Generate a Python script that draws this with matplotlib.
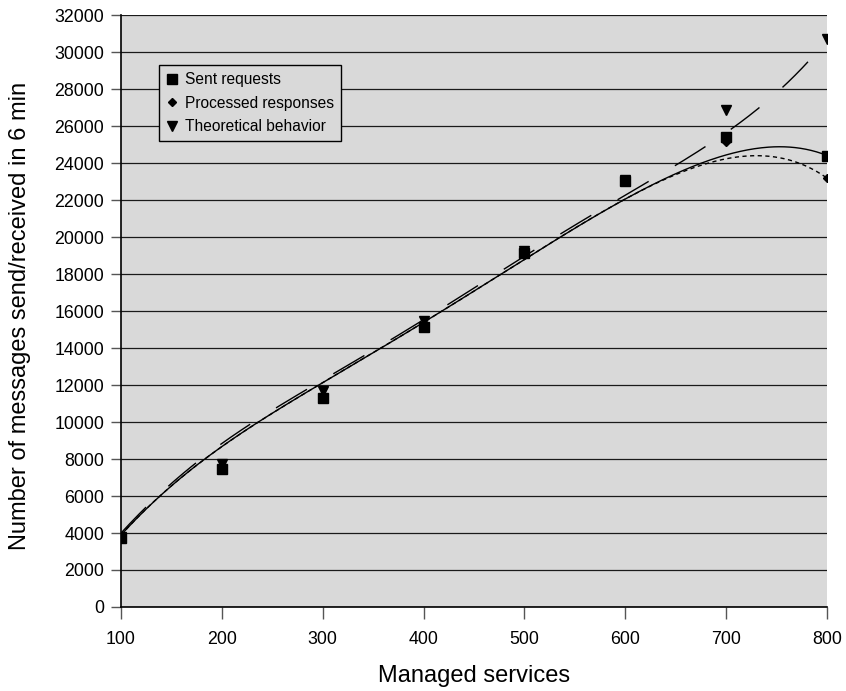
import numpy as np
import matplotlib.pyplot as plt

plt.rcParams['font.family'] = ['Liberation Sans', 'DejaVu Sans']

# managed services and message counts
services = [100, 200, 300, 400, 500, 600, 700, 800]
sent = [3730, 7480, 11280, 15160, 19120, 23030, 25420, 24400]
processed = [3730, 7520, 11320, 15220, 19150, 23050, 25150, 23190]
theoretical = [3800, 7720, 11680, 15490, 19260, 23070, 26900, 30690]

# trendline values every 50 services
trend_x = [100, 150, 200, 250, 300, 350, 400, 450, 500, 550, 600, 650, 700, 750, 800]
sent_trend = [3900, 6500, 8750, 10450, 12100, 13750, 15400, 17100, 18800, 20450,
              22050, 23450, 24450, 24870, 24420]
processed_trend = [3900, 6500, 8750, 10450, 12100, 13750, 15400, 17100, 18800, 20450,
                   22050, 23400, 24250, 24300, 23200]
theoretical_trend = [4000, 6650, 8900, 10600, 12250, 13900, 15550, 17250, 18950, 20600,
                     22300, 23950, 25550, 27850, 30650]

fig = plt.figure(figsize=(8.46, 6.91), dpi=100)
ax = fig.add_axes([0.143, 0.1216, 0.8345, 0.8564])
ax.set_facecolor('#d9d9d9')

tx = (np.array(trend_x) - 450) / 350.0
xs = np.linspace(100, 800, 400)
xn = (xs - 450) / 350.0

for vals, ls in [(sent_trend, '-'), (processed_trend, (0, (3, 2.5))),
                 (theoretical_trend, (0, (26, 22)))]:
    coef = np.polyfit(tx, vals, 7)
    ax.plot(xs, np.polyval(coef, xn), color='black', lw=1.0, linestyle=ls, zorder=3)

x = np.array(services)
ax.plot(x, theoretical, 'v', color='black', ms=6.5, ls='none', label='Theoretical behavior', zorder=4)
ax.plot(x, processed, 'D', color='black', ms=4.5, ls='none', label='Processed responses', zorder=5)
ax.plot(x, sent, 's', color='black', ms=6.5, ls='none', label='Sent requests', zorder=6)

ax.set_xlim(100, 800)
ax.set_ylim(0, 32000)
ax.set_xticks(range(100, 801, 100))
ax.set_yticks(range(0, 32001, 2000))
ax.grid(axis='y', color='#1a1a1a', lw=0.9)
ax.set_axisbelow(True)
for s in ['top', 'right']:
    ax.spines[s].set_visible(False)
ax.spines['left'].set_linewidth(1.2)
ax.spines['bottom'].set_linewidth(1.2)
ax.tick_params(direction='out', color='#555555', width=1, labelsize=12.8)
ax.tick_params(axis='y', length=7, pad=5)
ax.tick_params(axis='x', length=8.5, pad=9)

ax.set_xlabel('Managed services', fontsize=17, labelpad=12)
ax.set_ylabel('Number of messages send/received in 6 min', fontsize=17)
ax.yaxis.set_label_coords(-0.128, 0.492)

h, l = ax.get_legend_handles_labels()
order = [2, 1, 0]
leg = ax.legend([h[i] for i in order], [l[i] for i in order], loc='upper left',
                bbox_to_anchor=(0.054, 0.9155), fontsize=11.2, frameon=True, fancybox=False,
                handlelength=0.7, handletextpad=0.5, borderpad=0.45, labelspacing=0.55,
                borderaxespad=0)
leg.get_frame().set_facecolor('#d9d9d9')
leg.get_frame().set_edgecolor('black')
leg.get_frame().set_alpha(1)
leg.get_frame().set_linewidth(1.0)

fig.savefig('out.png', dpi=100)
